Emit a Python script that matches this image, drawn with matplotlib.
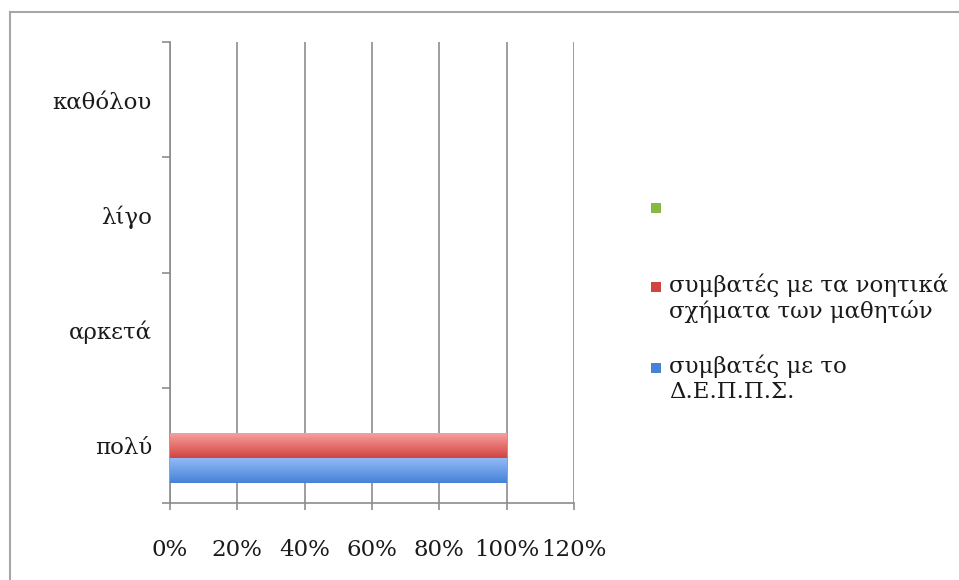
import matplotlib
matplotlib.use('Agg')
import matplotlib.pyplot as plt
import numpy as np
from matplotlib.colors import LinearSegmentedColormap
from matplotlib.lines import Line2D
from matplotlib.patches import Rectangle

# data
categories = ['πολύ', 'αρκετά', 'λίγο', 'καθόλου']
series_names = ['συμβατές με το\nΔ.Ε.Π.Π.Σ.',
                'συμβατές με τα νοητικά\nσχήματα των μαθητών',
                '']
values_depps = [100, 0, 0, 0]
values_noitika = [100, 0, 0, 0]
values_third = [0, 0, 0, 0]
x_ticks = [0, 20, 40, 60, 80, 100, 120]

# colours: (top, bottom) of the gradient
grads = [('#95BCF8', '#4682D6'),
         ('#F7A3A3', '#D2443F'),
         ('#C2E08A', '#86B843')]

plt.rcParams['font.family'] = ['DejaVu Serif']
plt.rcParams['font.size'] = 16.5
plt.rcParams['text.color'] = '#1A1A1A'

fig = plt.figure(figsize=(9.59, 5.80), dpi=100)
ax = fig.add_axes([170 / 959, 77 / 580, 404 / 959, 461 / 580])

y = np.arange(len(categories))
h = 0.22
offsets = [-h, 0, h]
all_vals = [values_depps, values_noitika, values_third]

for vals, off, (c_top, c_bot) in zip(all_vals, offsets, grads):
    bars = ax.barh(y + off, vals, height=h, color=c_bot, edgecolor='none', zorder=3)
    cmap = LinearSegmentedColormap.from_list('g', [c_bot, c_top])
    grad = np.linspace(0, 1, 64).reshape(-1, 1)
    for b in bars:
        if b.get_width() <= 0:
            continue
        x0, y0 = b.get_x(), b.get_y()
        im = ax.imshow(grad, cmap=cmap, aspect='auto', origin='lower',
                       extent=[x0, x0 + b.get_width(), y0, y0 + b.get_height()],
                       zorder=4)
        im.set_clip_path(b)

ax.set_xlim(0, 120)
ax.set_ylim(-0.5, len(categories) - 0.5)

ax.set_xticks(x_ticks)
ax.set_xticklabels([f'{t}%' for t in x_ticks])
ax.set_yticks(y)
ax.set_yticklabels(categories)
ax.set_yticks(np.arange(len(categories) + 1) - 0.5, minor=True)

ax.grid(axis='x', color='#8C8C8C', linewidth=1.2, zorder=1)
ax.tick_params(axis='y', which='major', length=0, pad=13, labelcolor='#1A1A1A')
ax.tick_params(axis='y', which='minor', length=6, width=1.2, color='#8C8C8C', direction='out')
ax.tick_params(axis='x', length=5, width=1.2, color='#8C8C8C', direction='out', pad=21,
               labelcolor='#1A1A1A')

for s in ['top', 'right']:
    ax.spines[s].set_visible(False)
for s in ['left', 'bottom']:
    ax.spines[s].set_color('#8C8C8C')
    ax.spines[s].set_linewidth(1.2)

# legend (manual so that markers align with the first text line)
legend_y = [368, 287, 208]  # pixel rows from the top
for name, (c_top, c_bot), py in zip(series_names, grads, legend_y):
    fy = 1 - py / 580
    fig.patches.append(Rectangle((651 / 959, fy - 5 / 580), 10 / 959, 10 / 580,
                                 transform=fig.transFigure, facecolor=c_bot,
                                 edgecolor='none'))
    fig.text(669 / 959, fy + 13 / 580, name, ha='left', va='top', linespacing=1.15)

# outer frame (top and left edge visible)
fig.add_artist(Line2D([10 / 959, 10 / 959], [0, 1 - 12 / 580],
                      transform=fig.transFigure, color='#A6A6A6', linewidth=1.5))
fig.add_artist(Line2D([10 / 959, 1], [1 - 12 / 580, 1 - 12 / 580],
                      transform=fig.transFigure, color='#A6A6A6', linewidth=1.5))

fig.savefig('out.png', dpi=100)
